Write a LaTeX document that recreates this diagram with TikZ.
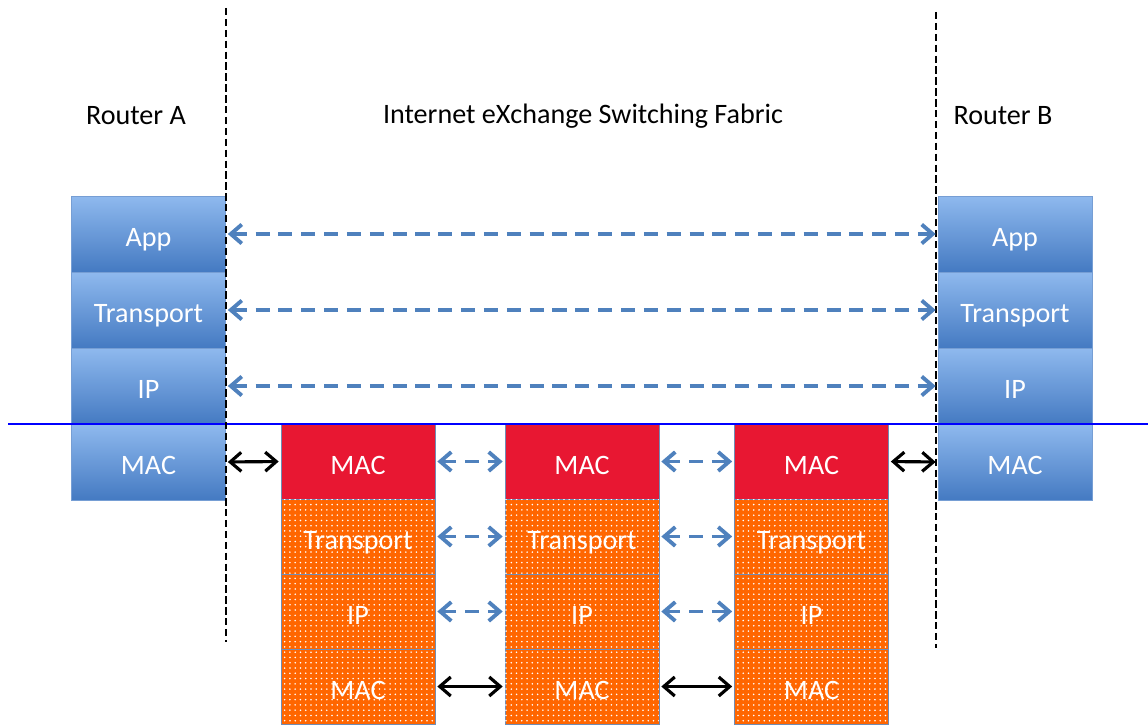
\documentclass[tikz,border=0pt]{standalone}
\usepackage{fontspec}
\setmainfont{Carlito}
\usepackage{tikz}
\usetikzlibrary{arrows.meta, calc, positioning, patterns}

\definecolor{routertop}{RGB}{143,185,238}
\definecolor{routerbot}{RGB}{68,122,194}
\definecolor{routeredge}{RGB}{118,158,212}
\definecolor{macred}{RGB}{232,23,50}
\definecolor{fabricorange}{RGB}{255,102,0}
\definecolor{fabricedge}{RGB}{112,140,180}
\definecolor{peerblue}{RGB}{79,129,189}

\tikzset{
  routerbox/.style={draw=routeredge, top color=routertop, bottom color=routerbot,
    text=white, minimum width=3.08cm, minimum height=1.52cm, inner sep=0pt,
    text height=18.5pt, text depth=4pt},
  macbox/.style={draw=fabricedge, fill=macred, text=white,
    minimum width=3.08cm, minimum height=1.5cm, inner sep=0pt,
    text height=18.5pt, text depth=4pt},
  fabricbox/.style={draw=fabricedge, fill=fabricorange, text=white,
    postaction={pattern=dots, pattern color=white},
    minimum width=3.08cm, minimum height=1.5cm, inner sep=0pt,
    text height=18.5pt, text depth=4pt},
  peer/.style={<->, peerblue, line width=2.2pt, dash pattern=on 8pt off 5pt,
    shorten <=0.04cm, shorten >=0.04cm},
  link/.style={<->, black, line width=1.8pt, shorten <=0.04cm, shorten >=0.04cm},
  sepline/.style={black, line width=1.6pt, dash pattern=on 4.2pt off 2pt}
}

\begin{document}
\begin{tikzpicture}[x=0.02cm, y=-0.02cm, font=\fontsize{16}{19}\selectfont,
    >={Straight Barb[length=2.2mm, width=3.8mm]}]
  \useasboundingbox (0,0) rectangle (1148,726);

  % titles
  \node (titleA) at (136,116) {Router A};
  \node (titleX) at (583,116) {Internet eXchange Switching Fabric};
  \node (titleB) at (1003,116) {Router B};

  % router stacks
  \foreach \n/\t/\y in {app/App/234, tr/Transport/310, ip/IP/386, mac/MAC/462} {
    \node[routerbox] (a-\n) at (148.5,\y) {\t};
    \node[routerbox] (b-\n) at (1015,\y) {\t};
  }

  % switches of the fabric
  \foreach \s/\x in {1/358, 2/582, 3/811.5} {
    \node[macbox] (s\s-mac) at (\x,461.5) {MAC};
    \node[fabricbox] (s\s-tr) at (\x,536.5) {Transport};
    \node[fabricbox] (s\s-ip) at (\x,611.5) {IP};
    \node[fabricbox] (s\s-low) at (\x,686.5) {MAC};
  }

  % boundary lines
  \coordinate (sepA-top) at (226,8);
  \coordinate (sepA-bot) at (226,642);
  \coordinate (sepB-top) at (936,12);
  \coordinate (sepB-bot) at (936,648);
  \coordinate (wire-l) at (8,424);
  \coordinate (wire-r) at (1148,424);
  \draw[blue, line width=1.5pt] (wire-l) -- (wire-r);
  \draw[sepline] (sepA-top) -- (sepA-bot);
  \draw[sepline] (sepB-top) -- (sepB-bot);

  % end to end
  \foreach \n in {app, tr, ip} {
    \draw[peer] (a-\n.east) -- (b-\n.west);
  }

  % hop by hop
  \draw[link] (a-mac.east) -- (s1-mac.west);
  \draw[link] (s3-mac.east) -- (b-mac.west);
  \foreach \p/\q in {1/2, 2/3} {
    \foreach \n in {mac, tr, ip} {
      \draw[peer] (s\p-\n.east) -- (s\q-\n.west);
    }
    \draw[link] (s\p-low.east) -- (s\q-low.west);
  }
\end{tikzpicture}
\end{document}
